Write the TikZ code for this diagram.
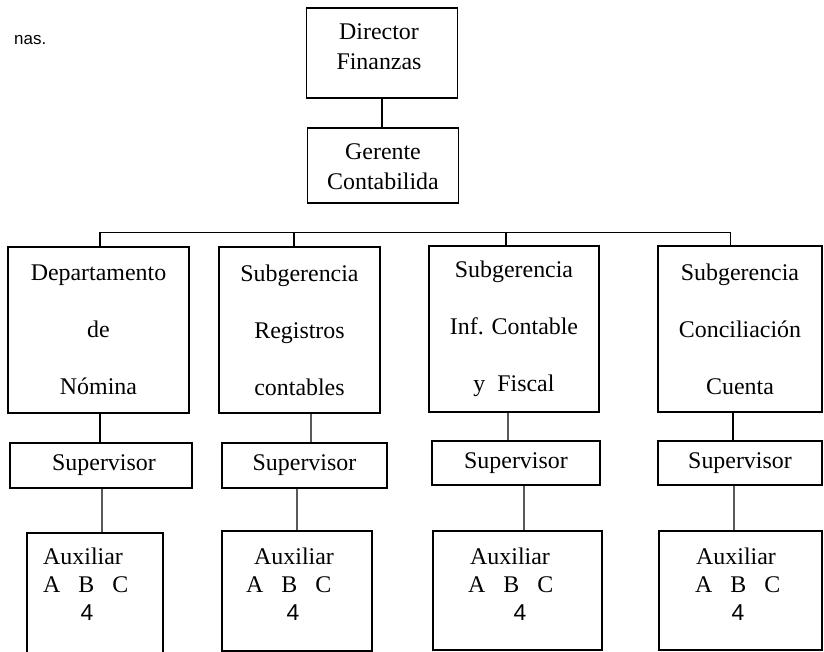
\documentclass[tikz,border=0pt]{standalone}
\usepackage{fontspec}
\setmainfont{Liberation Serif}
\newfontfamily\sansf{Liberation Sans}
\begin{document}
\begin{tikzpicture}[x=1bp,y=-1bp,
  box/.style={draw, line width=1.1bp, rectangle, inner sep=0pt},
  conn/.style={line width=1.1bp},
  lbl/.style={font=\fontsize{24}{27}\selectfont, inner sep=0pt, align=center},
  num/.style={font=\sansf\fontsize{23}{25}\selectfont, inner sep=0pt}]
\useasboundingbox (0,0) rectangle (824,652);
\clip (0,0) rectangle (824,652);
% stray text
\node[font=\sansf\fontsize{17}{19}\selectfont, inner sep=0pt, anchor=west] (nas) at (14,40) {nas.};
% top boxes
\node[box, minimum width=151bp, minimum height=90bp] (dir) at (382,53) {};
\node[lbl, font=\fontsize{24}{30}\selectfont] (dirt) at (379,47) {Director\\Finanzas};
\node[box, minimum width=151bp, minimum height=75bp] (ger) at (383,165.5) {};
\node[lbl, font=\fontsize{24}{30}\selectfont] (gert) at (383,167) {Gerente\\Contabilida};
% departments
\node[box, lbl, minimum width=181bp, minimum height=166bp] (b1) at (98.5,330) {Departamento\\[30bp]de\\[30bp]Nómina};
\node[box, lbl, minimum width=161bp, minimum height=166bp] (b2) at (299.5,330) {Subgerencia\\[30bp]Registros\\[30bp]contables};
\node[box, lbl, minimum width=170bp, minimum height=166bp] (b3) at (514,329) {Subgerencia\\[30bp]Inf. Contable\\[30bp]y\ \ Fiscal};
\node[box, lbl, minimum width=164bp, minimum height=166bp] (b4) at (740,329) {Subgerencia\\[30bp]Conciliación\\[30bp]Cuenta};
% supervisors
\node[box, lbl, minimum width=182bp, minimum height=45bp] (s1) at (101,465.5) {\ Supervisor};
\node[box, lbl, minimum width=165bp, minimum height=45bp] (s2) at (304.5,465.5) {Supervisor};
\node[box, lbl, minimum width=168bp, minimum height=44bp] (s3) at (516,463) {Supervisor};
\node[box, lbl, minimum width=164bp, minimum height=44bp] (s4) at (740,463) {Supervisor};
% auxiliaries
\node[box, minimum width=136bp, minimum height=147bp] (a1) at (95,606.5) {};
\node[box, minimum width=150bp, minimum height=120bp] (a2) at (297,591) {};
\node[box, minimum width=169bp, minimum height=119bp] (a3) at (517.5,590.5) {};
\node[box, minimum width=163bp, minimum height=119bp] (a4) at (740.5,590.5) {};
\newcommand\auxlines[4]{%
  \node[lbl, anchor=west] (#1x) at (#2,556) {Auxiliar};
  \node[lbl, anchor=west] (#1y) at (#3,585) {A\hspace{0.75em}B\hspace{0.75em}C};
  \node[num] (#1z) at (#4,613) {4};}
\auxlines{a1}{43}{43}{87}
\auxlines{a2}{254}{246}{293}
\auxlines{a3}{470}{468}{520}
\auxlines{a4}{696}{695}{738}
% connectors
\draw[conn] (dir.south) -- (dir.south |- ger.north);
\draw[conn] ([xshift=1.5bp]b1.north) -- ++(0,-14) -| ([xshift=-9.5bp]b4.north);
\draw[conn] ([xshift=-5.5bp]b2.north) -- ++(0,-14);
\draw[conn] ([xshift=-8bp]b3.north) -- ++(0,-13);
\draw[conn] ([xshift=1.5bp]b1.south) -- ([xshift=-1bp]s1.north);
\draw[conn] ([xshift=11.5bp]b2.south) -- ([xshift=6.5bp]s2.north);
\draw[conn] ([xshift=-6bp]b3.south) -- ([xshift=-8bp]s3.north);
\draw[conn] ([xshift=-7bp]b4.south) -- ([xshift=-7bp]s4.north);
\draw[conn] ([xshift=1bp]s1.south) -- ([xshift=7bp]a1.north);
\draw[conn] ([xshift=-7.5bp]s2.south) -- (a2.north);
\draw[conn] ([xshift=8bp]s3.south) -- ([xshift=6.5bp]a3.north);
\draw[conn] ([xshift=-6bp]s4.south) -- ([xshift=-6.5bp]a4.north);
\end{tikzpicture}
\end{document}
